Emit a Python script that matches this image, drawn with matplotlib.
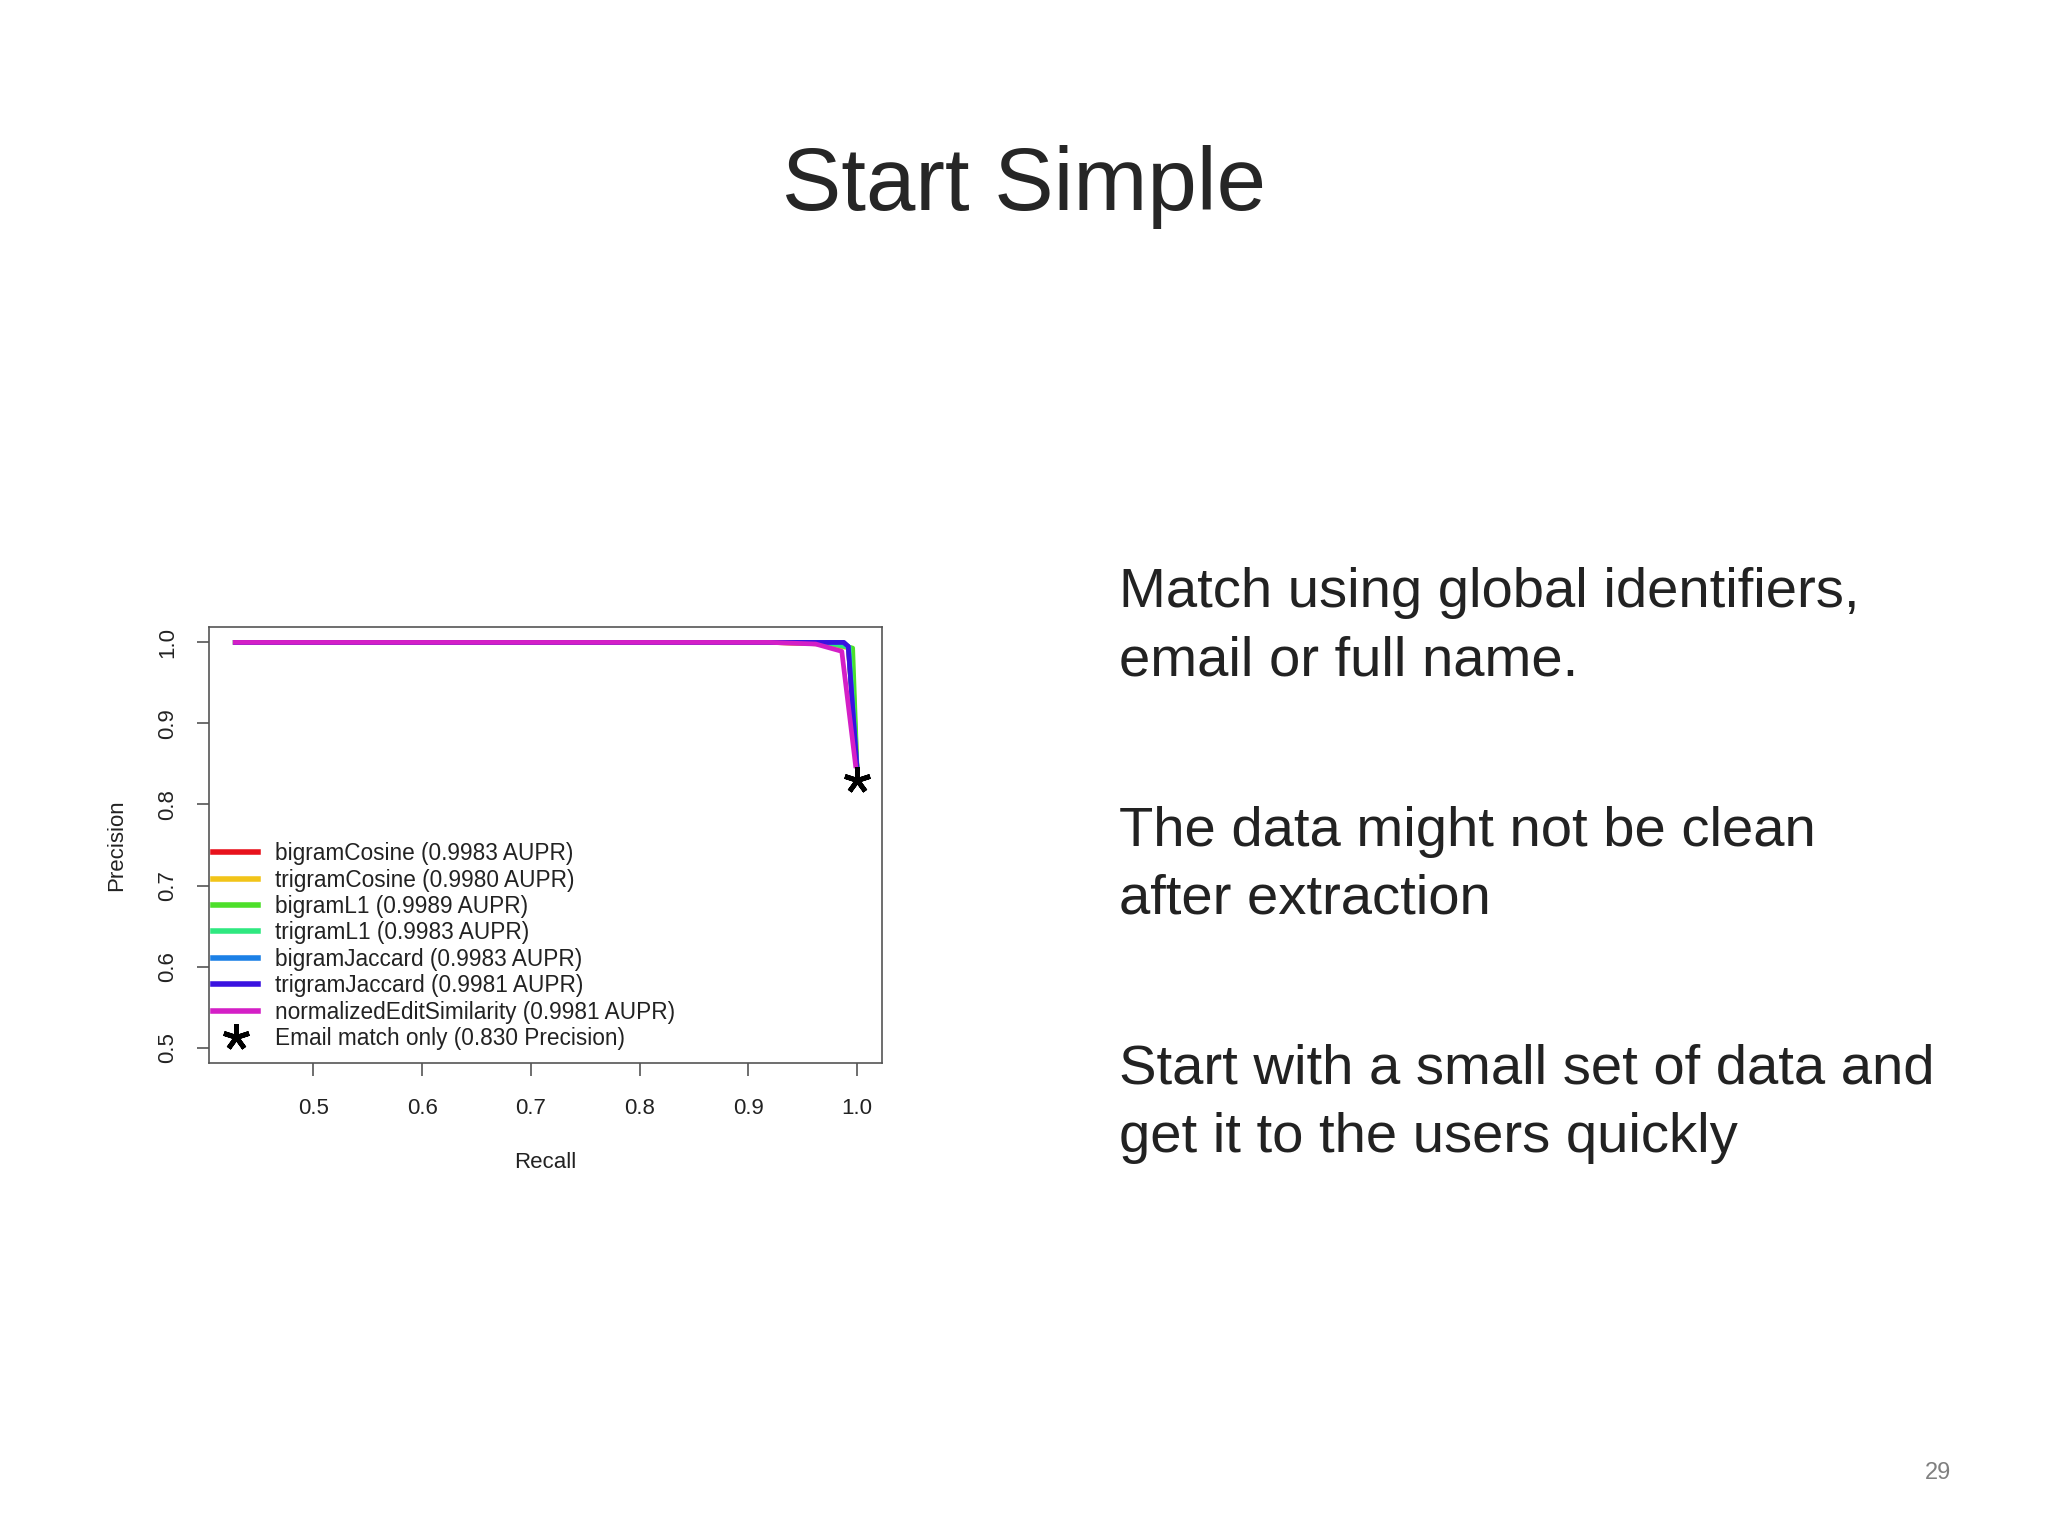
import matplotlib
matplotlib.use('Agg')
import matplotlib.pyplot as plt
from matplotlib.lines import Line2D

plt.rcParams['font.family'] = ['Liberation Sans', 'DejaVu Sans']

#- Slide text
title = 'Start Simple'
bullets = [
    ['Match using global identifiers,', 'email or full name.'],
    ['The data might not be clean', 'after extraction'],
    ['Start with a small set of data and', 'get it to the users quickly'],
]
page_no = '29'

#- Precision / recall curves
names = ['bigramCosine', 'trigramCosine', 'bigramL1', 'trigramL1',
         'bigramJaccard', 'trigramJaccard', 'normalizedEditSimilarity']
aupr = ['0.9983', '0.9980', '0.9989', '0.9983', '0.9983', '0.9981', '0.9981']
colors = ['#e8121c', '#f2c419', '#4ddf2a', '#2fe880', '#1c80e6', '#3a12e0', '#d41fc6']

recall_bigramCosine = [0.426, 0.92, 0.97, 0.992, 1.0]
prec_bigramCosine = [1.0, 1.0, 0.998, 0.994, 0.845]
recall_trigramCosine = [0.426, 0.92, 0.97, 0.995, 1.0]
prec_trigramCosine = [1.0, 1.0, 0.998, 0.993, 0.845]
recall_bigramL1 = [0.426, 0.93, 0.975, 0.996, 1.0]
prec_bigramL1 = [1.0, 1.0, 0.999, 0.993, 0.845]
recall_trigramL1 = [0.426, 0.93, 0.975, 0.993, 1.0]
prec_trigramL1 = [1.0, 1.0, 0.999, 0.994, 0.845]
recall_bigramJaccard = [0.426, 0.95, 0.987, 0.992, 1.0]
prec_bigramJaccard = [1.0, 1.0, 1.0, 0.995, 0.845]
recall_trigramJaccard = [0.426, 0.95, 0.988, 0.992, 1.0]
prec_trigramJaccard = [1.0, 1.0, 1.0, 0.995, 0.845]
recall_editSim = [0.426, 0.92, 0.962, 0.986, 0.999]
prec_editSim = [1.0, 1.0, 0.998, 0.989, 0.845]

recalls = [recall_bigramCosine, recall_trigramCosine, recall_bigramL1, recall_trigramL1,
           recall_bigramJaccard, recall_trigramJaccard, recall_editSim]
precs = [prec_bigramCosine, prec_trigramCosine, prec_bigramL1, prec_trigramL1,
         prec_bigramJaccard, prec_trigramJaccard, prec_editSim]

email_recall = 1.0
email_prec = 0.830

xticks = [0.5, 0.6, 0.7, 0.8, 0.9, 1.0]
yticks = [0.5, 0.6, 0.7, 0.8, 0.9, 1.0]

#- Figure
fig = plt.figure(figsize=(20.48, 15.36), dpi=100)
fig.patch.set_facecolor('white')

fig.text(0.5, 0.8633, title, ha='center', va='baseline', fontsize=64, color='#262626')

y_first = [607, 846, 1084]
for par, y0 in zip(bullets, y_first):
    for i, line in enumerate(par):
        fig.text(1119 / 2048, 1 - (y0 + i * 68) / 1536, line, ha='left', va='baseline',
                 fontsize=40.5, color='#222222')

fig.text(1938 / 2048, 1 - 1473 / 1536, page_no, ha='center', va='center',
         fontsize=17, color='#808080')

#- Chart
ax = fig.add_axes([209 / 2048, 1 - 1063 / 1536, 673 / 2048, 436 / 1536])
star = (5, 2, 0)
for r, p, c in zip(recalls, precs, colors):
    ax.plot(r, p, color=c, lw=3.4, solid_joinstyle='round', solid_capstyle='butt')
ax.plot([email_recall], [email_prec], ls='none', marker=star, ms=19, mew=3.5,
        mec='black', mfc='black')

ax.set_xlim(0.404, 1.023)
ax.set_ylim(0.481, 1.019)
ax.set_xticks(xticks)
ax.set_xticklabels(['%.1f' % v for v in xticks])
ax.set_yticks(yticks)
ax.set_yticklabels(['%.1f' % v for v in yticks], rotation=90, va='center')
for s in ax.spines.values():
    s.set_color('#555555')
    s.set_linewidth(1.2)
ax.tick_params(axis='both', direction='out', length=9, width=1.2, color='#555555',
               labelsize=16, labelcolor='#222222')
ax.tick_params(axis='x', pad=16)
ax.tick_params(axis='y', pad=13)
ax.set_xlabel('Recall', fontsize=16, color='#222222', labelpad=24)
ax.set_ylabel('Precision', fontsize=16, color='#222222', labelpad=22)

handles = [Line2D([], [], color=c, lw=4) for c in colors]
handles.append(Line2D([], [], ls='none', marker=star, ms=19, mew=3.5, color='black'))
labels = ['%s (%s AUPR)' % (n, a) for n, a in zip(names, aupr)]
labels.append('Email match only (%.3f Precision)' % email_prec)
ax.legend(handles, labels, loc='lower left', bbox_to_anchor=(0.006, 0.03),
          frameon=False, fontsize=16.3, borderpad=0, borderaxespad=0,
          handlelength=2.0, handletextpad=0.72, labelspacing=0.15,
          labelcolor='#222222')

fig.savefig('out.png', dpi=100, facecolor='white')
